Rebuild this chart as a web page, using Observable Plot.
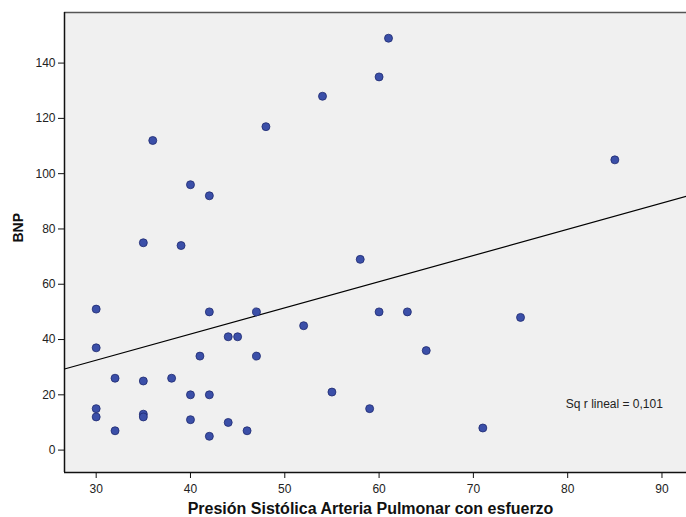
<!DOCTYPE html>
<html>
<head>
<meta charset="utf-8">
<script src="https://cdn.jsdelivr.net/npm/d3@7"></script>
<script src="https://cdn.jsdelivr.net/npm/@observablehq/plot@0.6"></script>
<style>
  html, body { margin: 0; padding: 0; background: #fff; }
  #chart svg { display: block; }
</style>
</head>
<body>
<div id="chart"></div>
<script>
// Presión Sistólica Arteria Pulmonar con esfuerzo
const psap = [30, 30, 30, 30, 32, 32, 35, 35, 35, 35, 36, 38, 39, 40, 40, 40, 41, 42, 42, 42, 42,
              44, 44, 45, 46, 47, 47, 48, 52, 54, 55, 58, 59, 60, 60, 61, 63, 65, 71, 75, 85];
// BNP
const bnp  = [51, 37, 15, 12, 26, 7, 25, 13, 12, 75, 112, 26, 74, 96, 20, 11, 34, 92, 50, 20, 5,
              41, 10, 41, 7, 50, 34, 117, 45, 128, 21, 69, 15, 135, 50, 149, 50, 36, 8, 48, 105];

const xTicks = [30, 40, 50, 60, 70, 80, 90];
const yTicks = [0, 20, 40, 60, 80, 100, 120, 140];
const xDomain = [26.64, 92.6];
const yDomain = [-8.1, 158.3];
const xTitle = "Presión Sistólica Arteria Pulmonar con esfuerzo";
const yTitle = "BNP";
const r2Label = "Sq r lineal = 0,101";
const r2Pos = {x: 79.8, y: 16.8};

const data = psap.map((x, i) => ({x, y: bnp[i]}));

// least squares fit
const mx = d3.mean(psap), my = d3.mean(bnp);
const sxy = d3.sum(data, d => (d.x - mx) * (d.y - my));
const sxx = d3.sum(data, d => (d.x - mx) ** 2);
const slope = sxy / sxx, intercept = my - slope * mx;
const fit = xDomain.map(x => ({x, y: intercept + slope * x}));

const chart = Plot.plot({
  width: 686,
  height: 517,
  marginLeft: 64,
  marginRight: 0,
  marginTop: 12,
  marginBottom: 45,
  style: {fontFamily: "'Liberation Sans', Arial, sans-serif", fontSize: "12px", color: "#222", background: "#fff"},
  x: {domain: xDomain},
  y: {domain: yDomain},
  marks: [
    Plot.frame({fill: "#f0f0f0", stroke: null}),
    Plot.ruleY([yDomain[1]], {stroke: "#555", strokeWidth: 1.5}),
    Plot.ruleX([xDomain[0]], {stroke: "#111", strokeWidth: 1.5}),
    Plot.ruleY([yDomain[0]], {stroke: "#111", strokeWidth: 1.5}),
    Plot.line(fit, {x: "x", y: "y", stroke: "#000", strokeWidth: 1.2, clip: true}),
    Plot.dot(data, {x: "x", y: "y", r: 4, fill: "#3b4fa8", stroke: "#1e2a70", strokeWidth: 0.8}),
    Plot.text([r2Label], {x: r2Pos.x, y: r2Pos.y, text: d => d, textAnchor: "start", fontSize: 12, fill: "#222"}),
    Plot.axisX({ticks: xTicks, tickSize: 6, tickPadding: 6, fontSize: 12, label: null, stroke: "#111"}),
    Plot.axisY({ticks: yTicks, tickSize: 6, tickPadding: 3, fontSize: 12, label: null, stroke: "#111"}),
    Plot.text([xTitle], {frameAnchor: "bottom", lineAnchor: "bottom", dy: 41, dx: -5, text: d => d, fontWeight: "bold", fontSize: 16, fill: "#111"}),
    Plot.text([yTitle], {frameAnchor: "left", rotate: -90, dx: -46, text: d => d, fontWeight: "bold", fontSize: 14, fill: "#111"})
  ]
});
document.getElementById("chart").appendChild(chart);
</script>
</body>
</html>
